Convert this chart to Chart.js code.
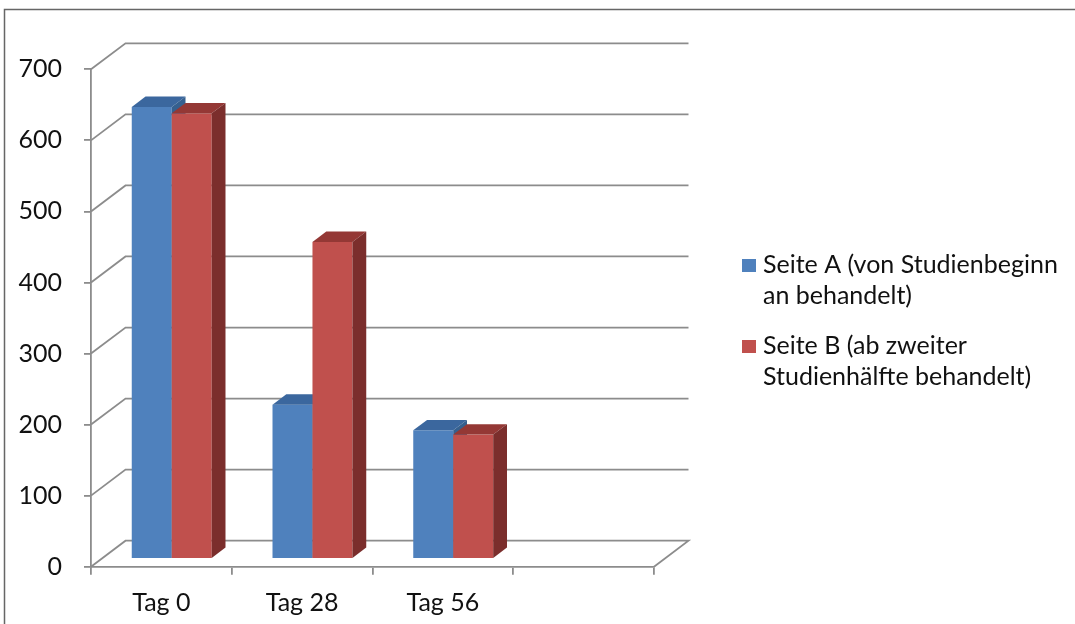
<!DOCTYPE html>
<html><head><meta charset="utf-8">
<script src="https://cdn.jsdelivr.net/npm/chart.js@4.4.0/dist/chart.umd.min.js"></script>
<style>html,body{margin:0;padding:0;background:#fff;overflow:hidden}#wrap{position:relative;width:1075px;height:624px}</style>
</head><body><div id="wrap"><canvas id="c" width="1075" height="624"></canvas></div>
<script>
const categories = ['Tag 0', 'Tag 28', 'Tag 56', ''];
const seiteA = [636, 217, 181, null];
const seiteB = [627, 446, 175, null];
const seriesLabels = [['Seite A (von Studienbeginn', 'an behandelt)'], ['Seite B (ab zweiter', 'Studienhälfte behandelt)']];
const yTicks = [0, 100, 200, 300, 400, 500, 600, 700];

const GRID = '#8c8c8c';
const FONT = 'Lato, "Open Sans", sans-serif';
const TEXT = '#111';
const DEPTH = {x: 34.5, y: -26};
const F0 = 0.3, F1 = 0.7;

const threeD = {
  id: 'threeD',
  beforeDraw(chart) {
    const {ctx, chartArea: a, scales: {y}} = chart;
    ctx.save();
    ctx.fillStyle = '#fff'; ctx.fillRect(0, 0, chart.width, chart.height);
    ctx.strokeStyle = '#666'; ctx.lineWidth = 1.5;
    ctx.beginPath(); ctx.moveTo(4.5, 624); ctx.lineTo(4.5, 9.5); ctx.lineTo(1075, 9.5); ctx.stroke();
    ctx.strokeStyle = GRID; ctx.lineWidth = 1.8;
    yTicks.forEach(v => {
      const py = y.getPixelForValue(v);
      ctx.beginPath();
      ctx.moveTo(a.left, py);
      ctx.lineTo(a.left + DEPTH.x, py + DEPTH.y);
      ctx.lineTo(a.right + DEPTH.x, py + DEPTH.y);
      if (v === 0) ctx.lineTo(a.right, py);
      ctx.stroke();
    });
    ctx.restore();
  },
  beforeDatasetDraw() { return false; },
  afterDatasetsDraw(chart) {
    const ctx = chart.ctx;
    const ox = DEPTH.x * F0, oy = DEPTH.y * F0;
    const dx = DEPTH.x * (F1 - F0), dy = DEPTH.y * (F1 - F0);
    ctx.save();
    for (let i = 0; i < categories.length; i++) {
      chart.data.datasets.forEach((ds, di) => {
        const el = chart.getDatasetMeta(di).data[i];
        if (!el || ds.data[i] == null) return;
        const p = el.getProps(['x', 'y', 'base', 'width'], true);
        const l = p.x - p.width / 2 + ox, r = p.x + p.width / 2 + ox;
        const t = p.y + oy, b = p.base + oy;
        ctx.fillStyle = ds.backgroundColor;
        ctx.fillRect(l, t, r - l, b - t);
        ctx.fillStyle = ds.topColor;
        ctx.beginPath(); ctx.moveTo(l, t); ctx.lineTo(r, t); ctx.lineTo(r + dx, t + dy); ctx.lineTo(l + dx, t + dy); ctx.closePath(); ctx.fill();
        ctx.fillStyle = ds.sideColor;
        ctx.beginPath(); ctx.moveTo(r, t); ctx.lineTo(r + dx, t + dy); ctx.lineTo(r + dx, b + dy); ctx.lineTo(r, b); ctx.closePath(); ctx.fill();
      });
    }
    ctx.restore();
  },
  afterDraw(chart) {
    const ctx = chart.ctx;
    ctx.save();
    ctx.font = '25px ' + FONT;
    ctx.textBaseline = 'alphabetic';
    ctx.textAlign = 'left';
    const starts = [273, 354];
    chart.data.datasets.forEach((ds, di) => {
      const base = starts[di];
      ctx.fillStyle = ds.backgroundColor;
      ctx.fillRect(742, base - 14, 14, 13);
      ctx.fillStyle = TEXT;
      seriesLabels[di].forEach((line, li) => ctx.fillText(line, 763, base + li * 31.3));
    });
    ctx.restore();
  }
};

new Chart(document.getElementById('c'), {
  type: 'bar',
  data: {
    labels: categories,
    datasets: [
      {label: seriesLabels[0].join(' '), data: seiteA, backgroundColor: '#4f81bd', topColor: '#3b679e', sideColor: '#35608f'},
      {label: seriesLabels[1].join(' '), data: seiteB, backgroundColor: '#c0504d', topColor: '#943835', sideColor: '#7b2e2c'}
    ]
  },
  options: {
    responsive: false,
    devicePixelRatio: 1,
    animation: false,
    categoryPercentage: 0.568,
    barPercentage: 1,
    layout: {padding: {left: 0, right: 421, top: 69.3, bottom: 0}},
    plugins: {legend: {display: false}, tooltip: {enabled: false}},
    scales: {
      x: {
        type: 'category', offset: true,
        grid: {display: true, offset: true, drawOnChartArea: false, drawTicks: true, tickLength: 8, color: GRID, lineWidth: 1.8},
        border: {display: true, color: GRID, width: 1.8},
        ticks: {color: TEXT, font: {family: FONT, size: 25}, padding: 13, maxRotation: 0, autoSkip: false},
        afterFit(s) { s.height = 57.3; }
      },
      y: {
        min: 0, max: 700,
        ticks: {stepSize: 100, color: TEXT, font: {family: FONT, size: 25}, padding: 22},
        grid: {drawOnChartArea: false, tickLength: 7, color: GRID, lineWidth: 1.8},
        border: {display: true, color: GRID, width: 1.8},
        afterFit(s) { s.width = 91; }
      }
    }
  },
  plugins: [threeD]
});
</script></body></html>
